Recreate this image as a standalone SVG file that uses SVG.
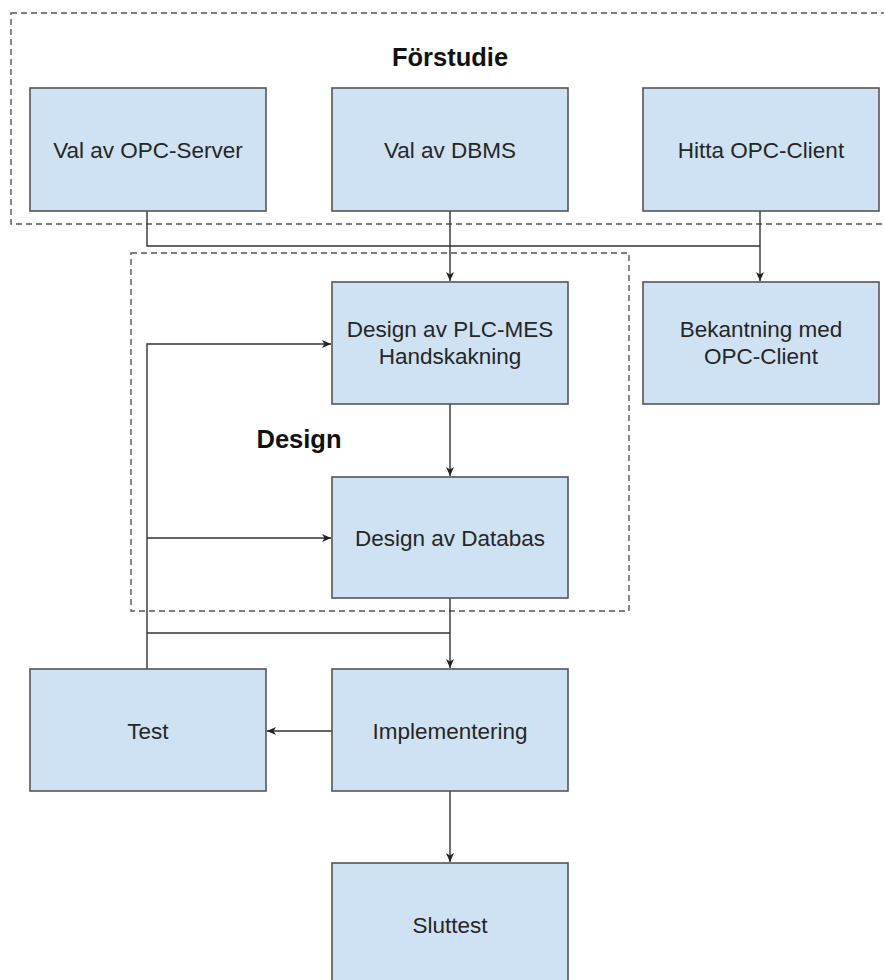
<svg xmlns="http://www.w3.org/2000/svg" width="884" height="980" viewBox="0 0 884 980">
  <defs>
    <marker id="arrow" markerWidth="10" markerHeight="8" refX="9" refY="4" orient="auto" markerUnits="userSpaceOnUse">
      <path d="M0,0 L9,4 L0,8 L2.5,4 Z" fill="#222"/>
    </marker>
    <style>
      .box { fill: #cfe2f3; stroke: #555; stroke-width: 1.6; }
      .lbl { font-family: "Liberation Sans", Arial, sans-serif; font-size: 22.5px; fill: #262626; text-anchor: middle; }
      .title { font-family: "Liberation Sans", Arial, sans-serif; font-size: 25.5px; font-weight: bold; fill: #111; text-anchor: middle; }
      .group { fill: none; stroke: #555; stroke-width: 1.4; stroke-dasharray: 6 4; }
      .conn { fill: none; stroke: #333; stroke-width: 1.4; }
    </style>
  </defs>
  <rect width="884" height="980" fill="#fff"/>

  <!-- phase containers -->
  <g id="forstudie">
    <rect class="group" x="11" y="13" width="900" height="211"/>
    <text class="title" x="450" y="66">Förstudie</text>
  </g>
  <g id="design">
    <rect class="group" x="131" y="253" width="498" height="358"/>
    <text class="title" x="299" y="448">Design</text>
  </g>

  <!-- connectors -->
  <g id="connectors">
    <polyline class="conn" points="147,211 147,246 760,246"/>
    <line class="conn" x1="760" y1="211" x2="760" y2="281" marker-end="url(#arrow)"/>
    <line class="conn" x1="450" y1="211" x2="450" y2="281" marker-end="url(#arrow)"/>
    <line class="conn" x1="450" y1="404" x2="450" y2="476" marker-end="url(#arrow)"/>
    <line class="conn" x1="450" y1="598" x2="450" y2="668" marker-end="url(#arrow)"/>
    <line class="conn" x1="147" y1="633" x2="450" y2="633"/>
    <polyline class="conn" points="147,669 147,344 331,344" marker-end="url(#arrow)"/>
    <line class="conn" x1="147" y1="538" x2="331" y2="538" marker-end="url(#arrow)"/>
    <line class="conn" x1="332" y1="731" x2="267" y2="731" marker-end="url(#arrow)"/>
    <line class="conn" x1="450" y1="791" x2="450" y2="862" marker-end="url(#arrow)"/>
  </g>

  <!-- nodes -->
  <g id="val-opc-server">
    <rect class="box" x="30" y="88" width="236" height="123"/>
    <text class="lbl" x="148" y="158">Val av OPC-Server</text>
  </g>
  <g id="val-dbms">
    <rect class="box" x="332" y="88" width="236" height="123"/>
    <text class="lbl" x="450" y="158">Val av DBMS</text>
  </g>
  <g id="hitta-opc-client">
    <rect class="box" x="643" y="88" width="236" height="123"/>
    <text class="lbl" x="761" y="158">Hitta OPC-Client</text>
  </g>
  <g id="bekantning">
    <rect class="box" x="643" y="282" width="236" height="122"/>
    <text class="lbl" x="761" y="337">Bekantning med</text>
    <text class="lbl" x="761" y="364">OPC-Client</text>
  </g>
  <g id="design-plc-mes">
    <rect class="box" x="332" y="282" width="236" height="122"/>
    <text class="lbl" x="450" y="337">Design av PLC-MES</text>
    <text class="lbl" x="450" y="364">Handskakning</text>
  </g>
  <g id="design-databas">
    <rect class="box" x="332" y="477" width="236" height="121"/>
    <text class="lbl" x="450" y="546">Design av Databas</text>
  </g>
  <g id="test">
    <rect class="box" x="30" y="669" width="236" height="122"/>
    <text class="lbl" x="148" y="739">Test</text>
  </g>
  <g id="implementering">
    <rect class="box" x="332" y="669" width="236" height="122"/>
    <text class="lbl" x="450" y="739">Implementering</text>
  </g>
  <g id="sluttest">
    <rect class="box" x="332" y="863" width="236" height="130"/>
    <text class="lbl" x="450" y="933">Sluttest</text>
  </g>
</svg>
